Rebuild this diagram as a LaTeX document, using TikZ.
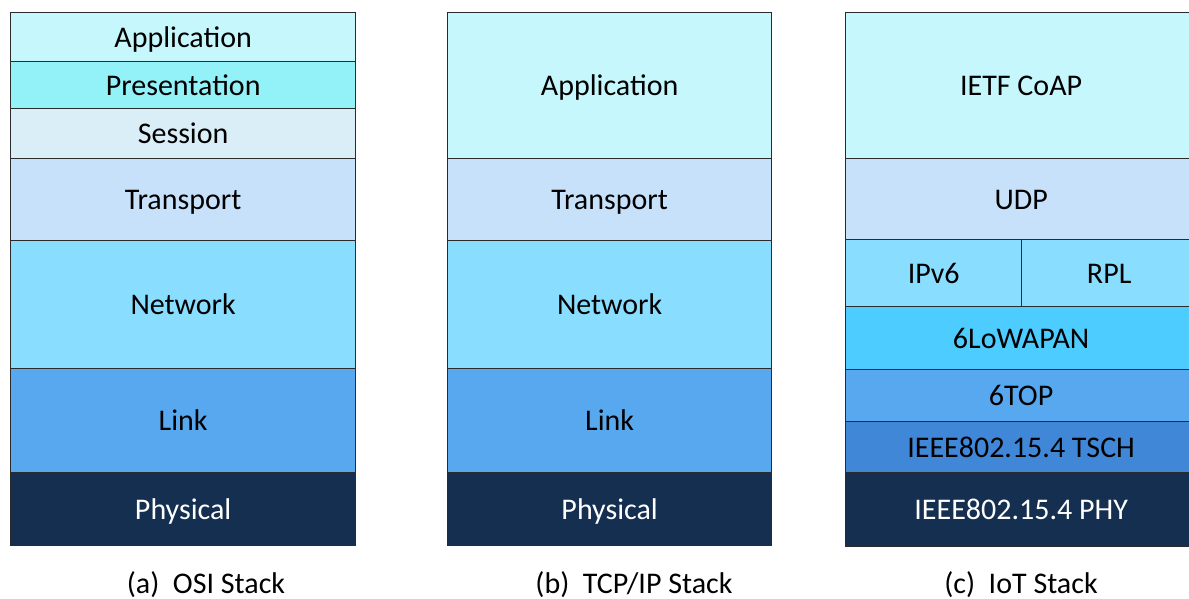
\documentclass[tikz,border=0pt]{standalone}
\usepackage{fontspec}
\setmainfont{Carlito}
\definecolor{cApp}{HTML}{C6F7FC}
\definecolor{cPres}{HTML}{92F2F8}
\definecolor{cSess}{HTML}{DAEEF7}
\definecolor{cTrans}{HTML}{C6E1F9}
\definecolor{cNet}{HTML}{89DDFE}
\definecolor{cLink}{HTML}{57A8EE}
\definecolor{cPhy}{HTML}{142F50}
\definecolor{cLow}{HTML}{4DCCFF}
\definecolor{cTsch}{HTML}{4187D7}
\definecolor{cEdge}{HTML}{2B2B2B}
\newcommand\lay[8]{%
  \node[lay, fill=#6, text=#8, minimum width={(#4-#2)*1pt}, minimum height={(#5-#3)*1pt}]
    (#1) at (#2,#3) {#7};}
\begin{document}
\begin{tikzpicture}[x=1pt,y=-1pt,
  lay/.style={draw=cEdge, line width=1.3pt, anchor=north west, inner sep=0pt,
    text height=20pt, text depth=0pt,
    font=\fontsize{30}{32}\selectfont},
  captxt/.style={font=\fontsize{30}{32}\selectfont, anchor=base}]
\useasboundingbox (0,0) rectangle (1189,599);
\clip (0,0) rectangle (1189,599);
% OSI
\lay{oApp}{10}{12}{355}{61}{cApp}{Application}{black}
\lay{oPres}{10}{61}{355}{108}{cPres}{Presentation}{black}
\lay{oSess}{10}{108}{355}{158}{cSess}{Session}{black}
\lay{oTrans}{10}{158}{355}{240}{cTrans}{Transport}{black}
\lay{oNet}{10}{240}{355}{368}{cNet}{Network}{black}
\lay{oLink}{10}{368}{355}{472}{cLink}{Link}{black}
\lay{oPhy}{10}{472}{355}{545}{cPhy}{Physical}{white}
% TCP/IP
\lay{tApp}{447}{12}{771}{158}{cApp}{Application}{black}
\lay{tTrans}{447}{158}{771}{240}{cTrans}{Transport}{black}
\lay{tNet}{447}{240}{771}{368}{cNet}{Network}{black}
\lay{tLink}{447}{368}{771}{472}{cLink}{Link}{black}
\lay{tPhy}{447}{472}{771}{545}{cPhy}{Physical}{white}
% IoT
\lay{iCoap}{845}{12}{1196}{158}{cApp}{IETF CoAP}{black}
\lay{iUdp}{845}{158}{1196}{239}{cTrans}{UDP}{black}
\lay{iIp}{845}{239}{1021}{306}{cNet}{IPv6}{black}
\lay{iRpl}{1021}{239}{1196}{306}{cNet}{RPL}{black}
\lay{iLow}{845}{306}{1196}{369}{cLow}{6LoWAPAN}{black}
\lay{iTop}{845}{369}{1196}{421}{cLink}{6TOP}{black}
\lay{iTsch}{845}{421}{1196}{472}{cTsch}{IEEE802.15.4 TSCH}{black}
\lay{iPhy}{845}{472}{1196}{546}{cPhy}{IEEE802.15.4 PHY}{white}
% captions
\node[captxt] (capA) at (206,593) {(a)\ \ OSI Stack};
\node[captxt] (capB) at (634,593) {(b)\ \ TCP/IP Stack};
\node[captxt] (capC) at (1021,593) {(c)\ \ IoT Stack};
\end{tikzpicture}
\end{document}
